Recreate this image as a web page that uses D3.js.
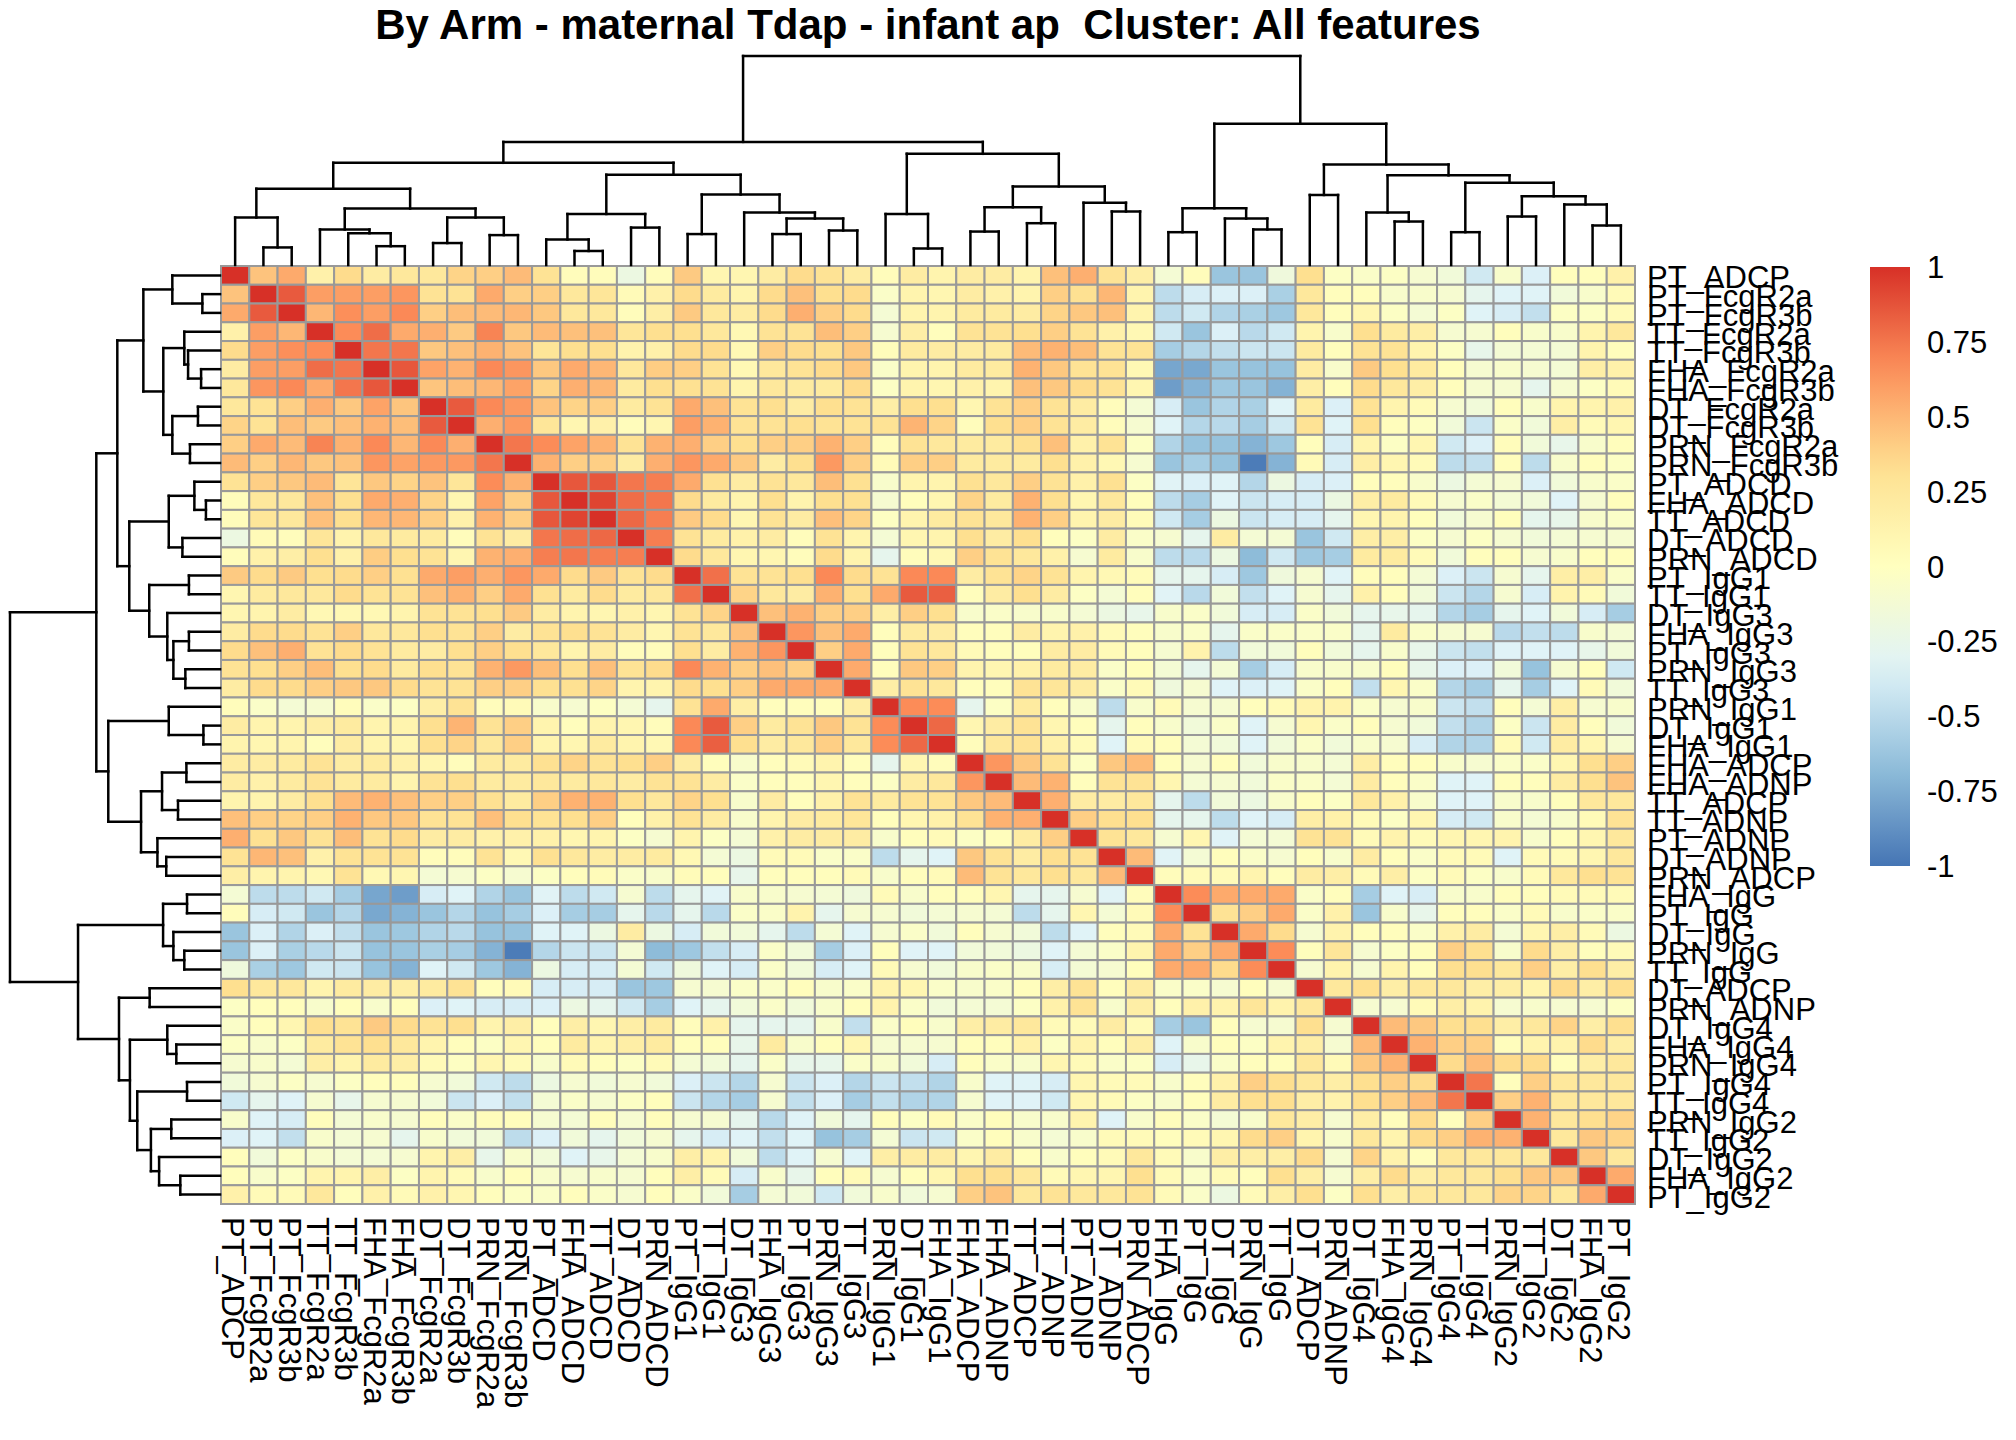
<!DOCTYPE html>
<html>
<head>
<meta charset="utf-8">
<script src="https://cdn.jsdelivr.net/npm/d3@7"></script>
<style>
  html, body { margin: 0; padding: 0; background: #ffffff; }
  svg text { font-family: "Liberation Sans", Arial, Helvetica, sans-serif; }
</style>
</head>
<body>
<div id="chart"></div>
<script>
"use strict";

var title = "By Arm - maternal Tdap - infant ap  Cluster: All features";

// features in clustered order (same order for rows and columns)
var features = ["PT_ADCP","PT_FcgR2a","PT_FcgR3b","TT_FcgR2a","TT_FcgR3b","FHA_FcgR2a","FHA_FcgR3b",
  "DT_FcgR2a","DT_FcgR3b","PRN_FcgR2a","PRN_FcgR3b","PT_ADCD","FHA_ADCD","TT_ADCD","DT_ADCD","PRN_ADCD",
  "PT_IgG1","TT_IgG1","DT_IgG3","FHA_IgG3","PT_IgG3","PRN_IgG3","TT_IgG3","PRN_IgG1","DT_IgG1","FHA_IgG1",
  "FHA_ADCP","FHA_ADNP","TT_ADCP","TT_ADNP","PT_ADNP","DT_ADNP","PRN_ADCP","FHA_IgG","PT_IgG","DT_IgG",
  "PRN_IgG","TT_IgG","DT_ADCP","PRN_ADNP","DT_IgG4","FHA_IgG4","PRN_IgG4","PT_IgG4","TT_IgG4","PRN_IgG2",
  "TT_IgG2","DT_IgG2","FHA_IgG2","PT_IgG2"];

// lower triangle of the correlation matrix, row i holds columns 0..i-1 (diagonal = 1)
var corrLower = [
  [],
  [.45],
  [.55,.85],
  [.15,.6,.5],
  [.35,.6,.66,.67],
  [.2,.6,.6,.78,.75],
  [.25,.63,.68,.55,.75,.86],
  [.25,.3,.4,.53,.43,.58,.44],
  [.38,.3,.47,.42,.46,.52,.47,.85],
  [.4,.55,.48,.7,.52,.68,.5,.68,.53],
  [.48,.4,.5,.43,.45,.63,.58,.62,.62,.75],
  [.3,.4,.43,.48,.28,.43,.38,.45,.27,.67,.52],
  [.03,.25,.25,.46,.33,.55,.53,.38,.1,.58,.4,.86],
  [.03,.27,.25,.46,.33,.5,.5,.4,.15,.52,.4,.86,.93],
  [-.2,.05,.03,.27,.13,.25,.22,.22,.03,.3,.2,.75,.78,.8],
  [.03,.15,.18,.33,.15,.41,.33,.3,.1,.52,.53,.72,.75,.72,.72],
  [.42,.35,.42,.33,.35,.4,.32,.55,.6,.53,.63,.55,.35,.42,.3,.35],
  [.1,.22,.25,.25,.35,.3,.3,.46,.52,.4,.55,.32,.22,.35,.22,.25,.77],
  [.1,.12,.2,.08,.08,.08,.12,.3,.3,.33,.42,.2,.12,.1,.15,.1,.3,.38],
  [.2,.35,.35,.3,.4,.25,.25,.33,.3,.4,.2,.3,.33,.3,.2,.1,.3,.25,.46],
  [.35,.46,.53,.3,.35,.3,.22,.2,.33,.4,.33,.25,.12,.2,.03,.03,.33,.2,.52,.63],
  [.3,.33,.4,.47,.33,.35,.22,.33,.3,.52,.62,.47,.33,.46,.3,.35,.68,.52,.4,.46,.4],
  [.2,.35,.35,.4,.43,.43,.35,.3,.3,.4,.4,.32,.32,.38,.12,.12,.35,.33,.4,.55,.55,.55],
  [.03,-.05,-.12,-.1,.03,-.05,-.03,.18,.3,.03,.05,-.07,-.1,-.02,-.12,-.27,.3,.55,.18,.02,.02,.02,.18],
  [.2,.12,.12,.18,.22,.12,.12,.33,.51,.3,.4,.12,.02,.12,.1,.03,.68,.85,.4,.22,.3,.43,.3,.67],
  [.12,.1,.12,.02,.2,.12,.1,.33,.38,.25,.4,.12,.1,.22,.12,.08,.68,.83,.33,.2,.25,.4,.25,.67,.8],
  [.2,.2,.22,.3,.2,.22,.15,.1,.03,.22,.22,.32,.38,.3,.33,.4,.2,.02,-.07,.02,.05,.12,.02,-.27,.1,.03],
  [.2,.15,.22,.3,.22,.22,.12,.3,.33,.22,.22,.25,.22,.25,.2,.3,.3,.2,-.05,.02,.02,.1,.02,-.03,.2,.25,.63],
  [.12,.12,.2,.33,.48,.52,.46,.4,.4,.32,.22,.4,.52,.52,.33,.25,.38,.33,-.07,.2,.02,.15,.3,.22,.3,.3,.43,.48],
  [.46,.4,.38,.4,.52,.43,.43,.3,.3,.46,.33,.3,.33,.4,.02,.15,.3,.2,-.07,.12,.2,.22,.27,.02,.1,.15,.3,.52,.53],
  [.53,.32,.43,.3,.47,.3,.35,.2,.2,.15,.15,.15,.1,.12,-.03,-.1,.12,-.03,-.12,.15,.2,.2,.2,-.07,.02,.05,-.03,.02,.2,.4],
  [.3,.5,.46,.15,.3,.3,.3,.03,.03,.3,.08,.32,.25,.2,.2,.22,.08,-.12,-.2,.05,.05,-.05,-.05,-.48,-.27,-.33,.43,.3,.2,.33,.3],
  [.18,.12,.12,.08,.3,.08,.1,-.12,-.1,-.03,-.1,-.03,.02,.04,-.05,-.07,.04,.02,-.25,.02,.02,.02,.05,-.07,.02,.05,.48,.3,.25,.33,.25,.48],
  [-.12,-.48,-.48,-.4,-.58,-.78,-.82,-.37,-.33,-.53,-.63,-.32,-.48,-.4,-.1,-.48,-.27,-.32,-.07,-.07,-.1,-.12,-.17,.05,-.07,.02,.02,.1,-.27,-.27,-.1,-.32,.03],
  [.03,-.37,-.4,-.63,-.52,-.77,-.72,-.63,-.52,-.64,-.58,-.35,-.58,-.58,-.27,-.5,-.27,-.5,-.05,-.05,.13,-.27,-.1,-.1,-.15,-.12,-.1,-.12,-.48,-.27,.1,-.12,.05,.67],
  [-.63,-.35,-.53,-.35,-.46,-.63,-.61,-.53,-.5,-.64,-.64,-.33,-.33,-.2,.2,-.2,-.37,-.15,-.15,-.27,-.48,-.12,-.33,-.1,-.05,-.15,.02,-.1,-.15,-.48,-.33,.02,.05,.55,.3],
  [-.63,-.35,-.56,-.5,-.42,-.64,-.63,-.56,-.58,-.72,-.97,-.52,-.42,-.42,-.12,-.68,-.61,-.46,-.37,-.05,-.15,-.58,-.35,.02,-.33,-.33,-.15,-.15,-.2,-.33,-.12,-.05,.12,.55,.4,.55],
  [-.17,-.56,-.61,-.4,-.42,-.64,-.72,-.33,-.4,-.61,-.72,-.2,-.37,-.37,-.12,-.4,-.17,-.33,-.37,-.05,-.15,-.37,-.33,.05,-.1,-.15,-.07,-.05,-.07,-.37,-.12,-.1,.02,.55,.55,.35,.67],
  [.33,.25,.25,.12,.22,.2,.18,.22,.3,.02,.05,-.37,-.37,-.37,-.63,-.61,-.1,-.1,-.05,-.05,.02,-.07,-.05,.13,.1,-.05,-.07,-.05,.02,.18,.3,.02,.2,-.05,-.05,-.1,.02,-.1],
  [-.03,.02,.02,-.07,.02,-.07,.02,-.35,-.33,-.37,-.37,-.35,-.2,-.27,-.4,-.58,-.33,-.27,-.15,-.05,-.15,-.07,.02,.13,-.05,-.15,-.12,-.12,-.03,.15,.3,-.07,.18,.02,.15,.13,.27,.13,.25],
  [-.05,.02,.1,.33,.3,.42,.35,.3,.33,.12,.18,.02,.18,.1,.18,.22,.03,.15,-.27,-.27,-.27,-.07,-.46,-.05,.02,-.07,.18,.2,.25,.05,.05,.2,.05,-.58,-.63,.02,-.1,-.1,.33,-.1],
  [-.03,-.07,-.03,.22,.3,.33,.25,.12,.02,-.03,.1,.02,.22,.12,.18,.22,.02,.02,-.25,.22,-.07,.02,.1,-.1,-.1,-.1,.02,.02,.15,-.03,.13,.02,.18,-.33,-.07,.02,-.03,.12,.18,-.1,.48],
  [-.1,-.07,-.12,.18,.12,.22,.18,.05,-.02,.1,.05,-.07,.05,.02,-.03,.05,-.12,-.15,-.27,-.05,-.25,-.25,-.05,-.07,-.15,-.37,.02,-.05,-.07,.1,.05,-.05,-.03,-.37,-.25,-.05,.02,.02,.25,.05,.43,.52],
  [-.15,-.1,-.03,-.1,-.03,.02,.02,-.1,-.15,-.4,-.48,-.2,-.1,-.15,-.1,-.15,-.35,-.42,-.52,-.1,-.42,-.35,-.52,-.42,-.46,-.53,-.07,-.33,-.33,-.37,.1,.05,.05,-.07,.02,.15,.4,.33,.25,.18,.33,.4,.35],
  [-.4,-.27,-.33,-.1,-.25,-.1,-.1,-.15,-.42,-.35,-.46,-.12,-.05,-.1,-.03,.02,-.42,-.52,-.58,-.1,-.46,-.35,-.58,-.46,-.53,-.53,-.1,-.33,-.33,-.4,.1,.05,-.03,-.07,.02,.2,.33,.33,.18,.13,.33,.4,.48,.75],
  [-.07,-.33,-.37,.02,-.12,-.07,-.1,.02,-.05,.03,.02,-.1,-.12,.02,-.1,.02,-.1,-.1,-.27,-.5,-.33,-.15,-.27,.02,-.03,.05,-.05,.02,-.07,-.07,.12,-.33,-.07,.02,-.05,-.12,-.07,.25,.18,-.1,.18,.02,.35,.02,.4],
  [-.35,-.33,-.46,-.07,-.12,-.1,-.27,-.07,-.15,-.15,-.48,-.35,-.15,-.27,-.15,-.1,-.27,-.37,-.33,-.46,-.33,-.64,-.58,-.12,-.42,-.4,-.05,.02,-.07,-.12,-.07,.05,.05,.02,.05,.1,.35,.4,.12,-.07,.25,.12,.35,.4,.52,.52],
  [.02,-.15,-.03,-.07,-.12,-.12,-.1,.12,.18,-.25,-.07,-.15,-.33,-.25,-.12,-.07,.18,.13,-.15,-.48,-.33,-.1,-.33,.18,.2,.2,.1,.2,.02,-.07,.02,.05,.25,.05,-.07,.18,.18,.18,.35,-.1,.38,.13,.02,.25,.25,.25,.25],
  [.02,-.07,-.03,.12,.12,.18,-.03,.12,.05,-.07,.02,-.07,-.1,-.07,-.1,.02,.18,.05,-.37,-.07,-.25,.02,.05,-.1,.02,.1,.33,.33,.25,.05,.1,.1,.33,.05,-.05,.05,.02,.33,.18,-.1,.18,.35,.18,.25,.25,.33,.43,.43],
  [.15,.05,.05,.25,.02,.15,.05,.15,.1,.02,-.03,-.05,.02,-.05,-.1,.02,-.05,-.15,-.58,-.12,-.15,-.4,-.15,-.07,-.15,-.1,.4,.45,.25,.3,.25,.25,.3,.05,-.05,-.2,.05,.18,.33,-.03,.33,.18,.25,.25,.25,.38,.38,.25,.55]
];

// cluster tree: [merge height, left, right]; leaves are feature indices
var tree =
  [1.000,
    [0.589,
      [0.489,
        [0.365,
          [0.227, 0, [0.084, 1, 2]],
          [0.270,
            [0.170, 3, [0.152, 4, [0.090, 5, 6]]],
            [0.227, [0.105, 7, 8], [0.143, 9, 10]]]],
        [0.432,
          [0.244, [0.122, 11, [0.067, 12, 13]], [0.179, 14, 15]],
          [0.337, [0.148, 16, 17],
            [0.251, 18, [0.222, [0.148, 19, 20], [0.165, 21, 22]]]]]],
      [0.532,
        [0.244, 23, [0.079, 24, 25]],
        [0.376,
          [0.276, [0.160, 26, 27], [0.200, 28, 29]],
          [0.298, 30, [0.256, 31, 32]]]]],
    [0.676,
      [0.271, [0.157, 33, 34], [0.222, 35, [0.170, 36, 37]]],
      [0.481,
        [0.335, 38, 39],
        [0.429,
          [0.251, 40, [0.208, 41, 42]],
          [0.394, [0.157, 43, 44],
            [0.329, [0.232, 45, 46], [0.290, 47, [0.189, 48, 49]]]]]]]];

var legendTicks = [1, 0.75, 0.5, 0.25, 0, -0.25, -0.5, -0.75, -1];
var legendLabels = ["1", "0.75", "0.5", "0.25", "0", "-0.25", "-0.5", "-0.75", "-1"];

var paletteStops = [-1, -2/3, -1/3, 0, 1/3, 2/3, 1];
var palette = ["#4575B4", "#91BFDB", "#E0F3F8", "#FFFFBF", "#FEE090", "#FC8D59", "#D73027"];

// full symmetric matrix from the lower triangle
var n = features.length;
var corr = features.map(function(_, i) {
  return features.map(function(_, j) {
    if (i === j) return 1;
    return i > j ? corrLower[i][j] : corrLower[j][i];
  });
});

var svg = d3.select("#chart")
  .append("svg")
    .attr("width", 2016)
    .attr("height", 1440);

var x = d3.scaleBand().domain(d3.range(n)).range([221, 1635]);
var y = d3.scaleBand().domain(d3.range(n)).range([266, 1204]);
var color = d3.scaleLinear().domain(paletteStops).range(palette);

// title
svg.append("text")
  .attr("x", 928)
  .attr("y", 39)
  .attr("text-anchor", "middle")
  .style("font-size", "42px")
  .style("font-weight", "bold")
  .style("white-space", "pre")
  .text(title);

// cells
var cells = [];
corr.forEach(function(row, i) {
  row.forEach(function(v, j) { cells.push({r: i, c: j, v: v}); });
});

svg.append("g")
  .selectAll("rect")
  .data(cells)
  .join("rect")
    .attr("x", function(d) { return x(d.c); })
    .attr("y", function(d) { return y(d.r); })
    .attr("width", x.bandwidth())
    .attr("height", y.bandwidth())
    .attr("fill", function(d) { return color(d.v); })
    .attr("stroke", "#999999")
    .attr("stroke-width", 2);

// dendrograms (elbow style, like hclust)
function collect(node, pos, segs) {
  if (typeof node === "number") return {p: pos(node), h: 0};
  var a = collect(node[1], pos, segs);
  var b = collect(node[2], pos, segs);
  var h = node[0];
  segs.push([a.p, a.h, a.p, h], [b.p, b.h, b.p, h], [a.p, h, b.p, h]);
  return {p: (a.p + b.p) / 2, h: h};
}

var topH = d3.scaleLinear().domain([0, 1]).range([265, 56]);
var leftH = d3.scaleLinear().domain([0, 1]).range([220, 10]);

var topSegs = [];
collect(tree, function(i) { return x(i) + x.bandwidth() / 2; }, topSegs);
var leftSegs = [];
collect(tree, function(i) { return y(i) + y.bandwidth() / 2; }, leftSegs);

svg.append("g")
  .selectAll("line")
  .data(topSegs)
  .join("line")
    .attr("x1", function(d) { return d[0]; })
    .attr("y1", function(d) { return topH(d[1]); })
    .attr("x2", function(d) { return d[2]; })
    .attr("y2", function(d) { return topH(d[3]); })
    .attr("stroke", "#000")
    .attr("stroke-width", 2.5)
    .attr("stroke-linecap", "square");

svg.append("g")
  .selectAll("line")
  .data(leftSegs)
  .join("line")
    .attr("x1", function(d) { return leftH(d[1]); })
    .attr("y1", function(d) { return d[0]; })
    .attr("x2", function(d) { return leftH(d[3]); })
    .attr("y2", function(d) { return d[2]; })
    .attr("stroke", "#000")
    .attr("stroke-width", 2.5)
    .attr("stroke-linecap", "square");

// row labels
svg.append("g")
  .selectAll("text")
  .data(features)
  .join("text")
    .attr("x", 1647)
    .attr("y", function(d, i) { return y(i) + y.bandwidth() / 2 + 13; })
    .style("font-size", "31px")
    .text(function(d) { return d; });

// column labels, rotated
svg.append("g")
  .selectAll("text")
  .data(features)
  .join("text")
    .attr("transform", function(d, i) {
      return "translate(" + (x(i) + x.bandwidth() / 2 - 13) + ",1217) rotate(90)";
    })
    .style("font-size", "31px")
    .text(function(d) { return d; });

// colour legend
var legY = d3.scaleLinear().domain([-1, 1]).range([866, 267]);

var grad = svg.append("defs").append("linearGradient")
  .attr("id", "legendGrad")
  .attr("x1", 0).attr("y1", 0).attr("x2", 0).attr("y2", 1);
d3.range(0, 1.0001, 0.05).forEach(function(t) {
  grad.append("stop")
    .attr("offset", t)
    .attr("stop-color", color(1 - 2 * t));
});

svg.append("rect")
  .attr("x", 1870)
  .attr("y", legY(1))
  .attr("width", 40)
  .attr("height", legY(-1) - legY(1))
  .attr("fill", "url(#legendGrad)");

svg.append("g")
  .selectAll("text")
  .data(legendTicks)
  .join("text")
    .attr("x", 1927)
    .attr("y", function(d) { return legY(d) + 11; })
    .style("font-size", "31px")
    .text(function(d, i) { return legendLabels[i]; });
</script>
</body>
</html>
